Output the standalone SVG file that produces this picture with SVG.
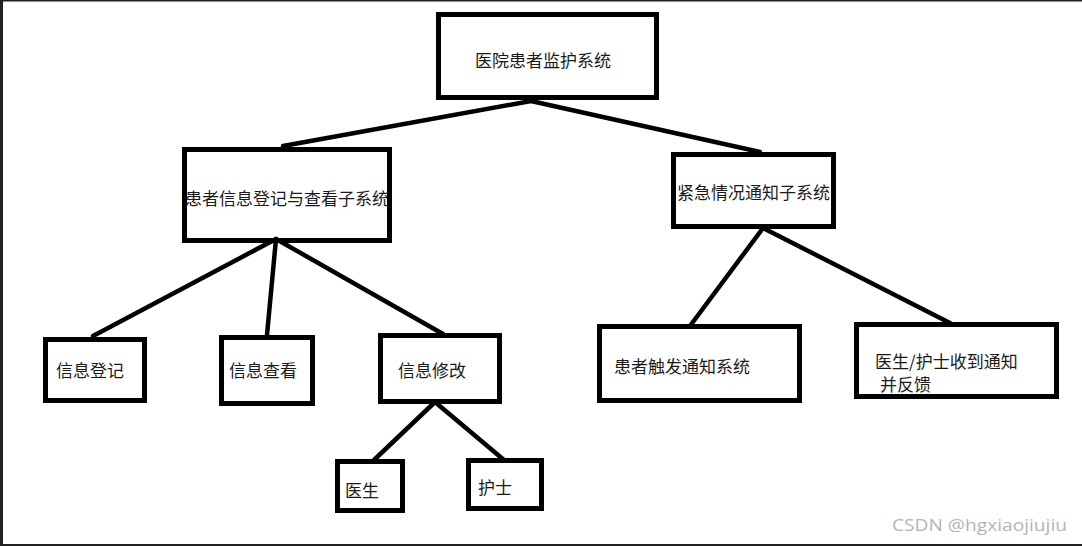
<svg xmlns="http://www.w3.org/2000/svg" width="1082" height="546" viewBox="0 0 1082 546">
<style>
.box{fill:none;stroke:#000;stroke-width:5}
.lbl{font-family:"Noto Sans CJK SC","Liberation Sans",sans-serif;font-size:17px;fill:#1a1a1a;dominant-baseline:central}
.edge{stroke:#000;stroke-width:4.5;stroke-linecap:round;fill:none}
</style>
<rect x="0" y="0" width="1082" height="546" fill="#fff"/>
<g id="frame" fill="#222">
<rect x="0" y="0" width="1082" height="1.5"/>
<rect x="0" y="0" width="3" height="546"/>
<rect x="0" y="544" width="1082" height="2"/>
</g>
<g id="connectors">
<line class="edge" x1="531" y1="101" x2="283" y2="146"/>
<line class="edge" x1="531" y1="101" x2="760" y2="152"/>
<line class="edge" x1="276" y1="239" x2="93" y2="336"/>
<line class="edge" x1="276" y1="239" x2="267" y2="335"/>
<line class="edge" x1="276" y1="239" x2="443" y2="334"/>
<line class="edge" x1="435" y1="402" x2="374" y2="460"/>
<line class="edge" x1="435" y1="402" x2="504" y2="460"/>
<line class="edge" x1="763" y1="228" x2="690" y2="326"/>
<line class="edge" x1="763" y1="228" x2="950" y2="323"/>
</g>
<g id="root"><text class="lbl" x="475" y="59">医院患者监护系统</text><rect class="box" x="438.5" y="14.5" width="218" height="83"/></g>
<g id="sub-info"><text class="lbl" x="185" y="197">患者信息登记与查看子系统</text><rect class="box" x="184.5" y="149.5" width="205" height="91"/></g>
<g id="sub-emergency"><text class="lbl" x="677" y="191">紧急情况通知子系统</text><rect class="box" x="673.5" y="154.5" width="160" height="72"/></g>
<g id="info-register"><text class="lbl" x="56" y="369">信息登记</text><rect class="box" x="45.5" y="339.5" width="99" height="61"/></g>
<g id="info-view"><text class="lbl" x="229" y="369">信息查看</text><rect class="box" x="221.5" y="337.5" width="91" height="66"/></g>
<g id="info-modify"><text class="lbl" x="398" y="369">信息修改</text><rect class="box" x="380.5" y="335.5" width="119" height="66"/></g>
<g id="doctor"><text class="lbl" x="345" y="489">医生</text><rect class="box" x="337.5" y="461.5" width="65" height="49"/></g>
<g id="nurse"><text class="lbl" x="478" y="486">护士</text><rect class="box" x="468.5" y="460.5" width="73" height="48"/></g>
<g id="patient-trigger"><text class="lbl" x="614" y="365">患者触发通知系统</text><rect class="box" x="599.5" y="326.5" width="200" height="74"/></g>
<g id="staff-feedback"><text class="lbl" x="875" y="360">医生/护士收到通知</text><text class="lbl" x="880" y="383">并反馈</text><rect class="box" x="856.5" y="324.5" width="200" height="72"/></g>
<text x="892" y="531" font-family="'Open Sans','Liberation Sans',sans-serif" font-size="17" fill="#b4b4b4" textLength="175" lengthAdjust="spacingAndGlyphs">CSDN @hgxiaojiujiu</text>
</svg>
